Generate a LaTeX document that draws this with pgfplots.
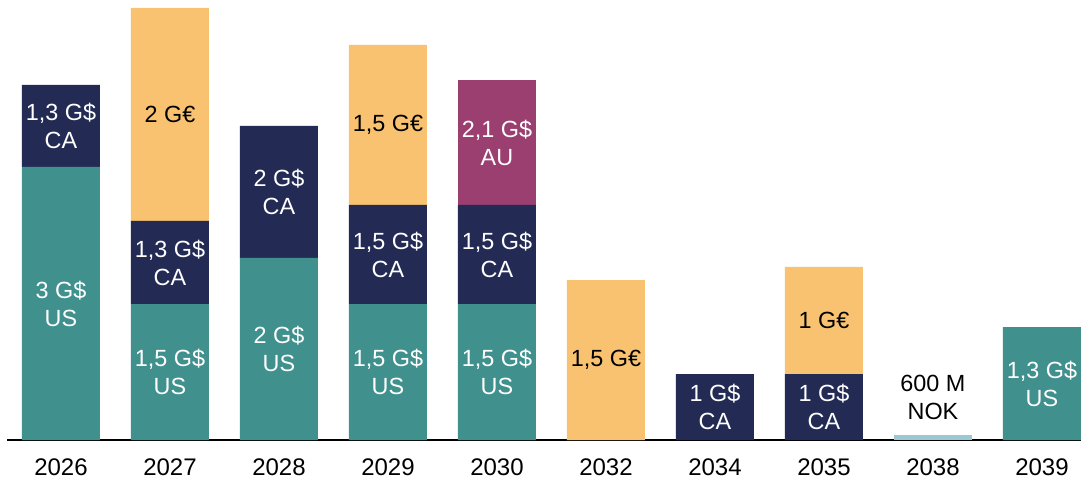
\documentclass[border=0pt]{standalone}
\usepackage{pgfplots}
\pgfplotsset{compat=1.18}
\usepackage{fontspec}
\setmainfont{Liberation Sans}
\definecolor{cteal}{HTML}{40918E}
\definecolor{cnavy}{HTML}{232B55}
\definecolor{cyellow}{HTML}{F8C270}
\definecolor{cpurple}{HTML}{9B3E70}
\definecolor{clight}{HTML}{9BC8D2}
\tikzset{lab/.style={font=\fontsize{11.7}{14}\selectfont, align=center, inner sep=0pt}}
\begin{document}
\begin{tikzpicture}
\path[use as bounding box] (-3.5pt,-21pt) rectangle (537pt,220pt);
\begin{axis}[
  scale only axis,
  width=537pt, height=220pt,
  xmin=-0.495, xmax=9.358, ymin=0, ymax=440,
  axis x line=bottom, axis y line=none,
  axis line style={black, line width=0.75pt, -},
  xtick=data,
  xticklabels={2026,2027,2028,2029,2030,2032,2034,2035,2038,2039},
  major tick length=0pt,
  xticklabel style={font=\fontsize{12}{14}\selectfont, anchor=center, yshift=-13.5pt},
  /pgf/number format/assume math mode=true,
  ybar stacked, bar width=39pt,
  clip=false,
]
\addplot[fill=cteal, draw=none] coordinates {(0,273) (1,136) (2,182) (3,136) (4,136) (5,0) (6,0) (7,0) (8,0) (9,113)};
\addplot[fill=cnavy, draw=none] coordinates {(0,82) (1,83) (2,132) (3,99) (4,99) (5,0) (6,66) (7,66) (8,0) (9,0)};
\addplot[fill=cyellow, draw=none] coordinates {(0,0) (1,213) (2,0) (3,160) (4,0) (5,160) (6,0) (7,107) (8,0) (9,0)};
\addplot[fill=cpurple, draw=none] coordinates {(0,0) (1,0) (2,0) (3,0) (4,125) (5,0) (6,0) (7,0) (8,0) (9,0)};
\addplot[fill=clight, draw=none] coordinates {(0,0) (1,0) (2,0) (3,0) (4,0) (5,0) (6,0) (7,0) (8,5) (9,0)};
\coordinate (l1) at (axis cs:0,136.5);
\coordinate (l2) at (axis cs:0,314);
\coordinate (l3) at (axis cs:1,68);
\coordinate (l4) at (axis cs:1,177.5);
\coordinate (l5) at (axis cs:1,326);
\coordinate (l6) at (axis cs:2,91);
\coordinate (l7) at (axis cs:2,248);
\coordinate (l8) at (axis cs:3,68);
\coordinate (l9) at (axis cs:3,185.5);
\coordinate (l10) at (axis cs:3,315);
\coordinate (l11) at (axis cs:4,68);
\coordinate (l12) at (axis cs:4,185.5);
\coordinate (l13) at (axis cs:4,297.5);
\coordinate (l14) at (axis cs:5,80);
\coordinate (l15) at (axis cs:6,33);
\coordinate (l16) at (axis cs:7,33);
\coordinate (l17) at (axis cs:7,119.5);
\coordinate (l18) at (axis cs:8,43);
\coordinate (l19) at (axis cs:9,56.5);
\end{axis}
\node[lab, white] at (l1) {3 G\$\\US};
\node[lab, white] at (l2) {1,3 G\$\\CA};
\node[lab, white] at (l3) {1,5 G\$\\US};
\node[lab, white] at (l4) {1,3 G\$\\CA};
\node[lab, black] at (l5) {2 G€};
\node[lab, white] at (l6) {2 G\$\\US};
\node[lab, white] at (l7) {2 G\$\\CA};
\node[lab, white] at (l8) {1,5 G\$\\US};
\node[lab, white] at (l9) {1,5 G\$\\CA};
\node[lab, black] at (l10) {1,5 G€};
\node[lab, white] at (l11) {1,5 G\$\\US};
\node[lab, white] at (l12) {1,5 G\$\\CA};
\node[lab, white] at (l13) {2,1 G\$\\AU};
\node[lab, black] at (l14) {1,5 G€};
\node[lab, white] at (l15) {1 G\$\\CA};
\node[lab, white] at (l16) {1 G\$\\CA};
\node[lab, black] at (l17) {1 G€};
\node[lab, black] at (l18) {600 M\\NOK};
\node[lab, white] at (l19) {1,3 G\$\\US};
\end{tikzpicture}
\end{document}
